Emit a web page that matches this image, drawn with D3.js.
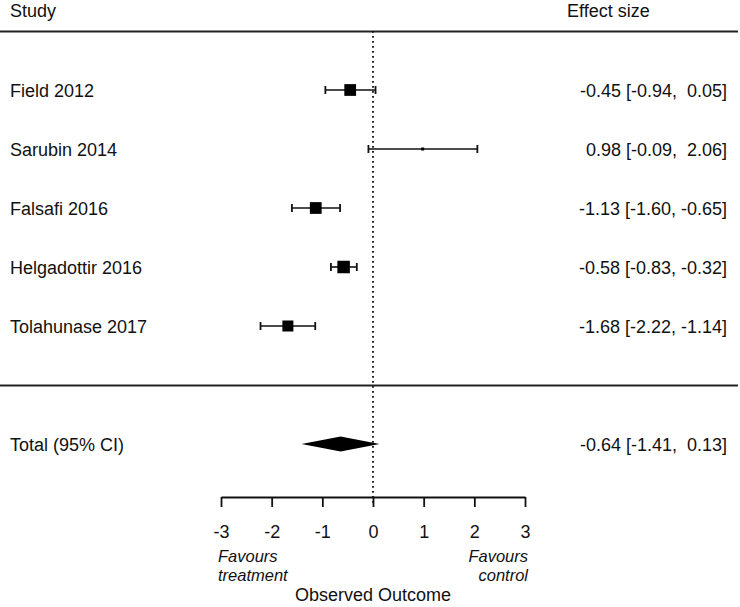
<!DOCTYPE html>
<html>
<head>
<meta charset="utf-8">
<script src="https://cdn.jsdelivr.net/npm/d3@7"></script>
<style>
  body { margin: 0; background: #fff; }
  text { font-family: "Liberation Sans", Arial, sans-serif; fill: #111; white-space: pre; }
</style>
</head>
<body>
<div id="viz"></div>
<script>
const width = 740;
const height = 607;

// study rows, top to bottom
const studies = ['Field 2012', 'Sarubin 2014', 'Falsafi 2016', 'Helgadottir 2016', 'Tolahunase 2017'];
const estimates = [-0.45, 0.98, -1.13, -0.58, -1.68];
const lowerCI = [-0.94, -0.09, -1.60, -0.83, -2.22];
const upperCI = [0.05, 2.06, -0.65, -0.32, -1.14];
const weights = [23.5, 6.0, 23.5, 25.0, 22.0];
const summary = {label: 'Total (95% CI)', est: -0.64, lo: -1.41, hi: 0.13};
const ticks = [-3, -2, -1, 0, 1, 2, 3];

const rows = studies.map((s, i) => ({
  study: s, est: estimates[i], lo: lowerCI[i], hi: upperCI[i], w: weights[i], row: studies.length - i
}));

const x = d3.scaleLinear().domain([-3, 3]).range([221, 525]);
// row index -> y (row 0 is the separator line, -1 the summary)
const y = d3.scaleLinear().domain([0, 5]).range([385, 90]);
const size = d3.scaleLinear().domain([0, d3.max(weights)]).range([0, 12.5]);

const fs = '18px';
const fmt = v => d3.format('.2f')(v).replace('−', '-').padStart(5, ' ');
const label = (e, l, h) => `${fmt(e)} [${fmt(l)}, ${fmt(h)}]`;

const svg = d3.select('#viz').append('svg')
  .attr('width', width)
  .attr('height', height);

// header
svg.append('text').attr('x', 10).attr('y', 17).style('font-size', fs).text('Study');
svg.append('text').attr('x', 567).attr('y', 17).style('font-size', fs).text('Effect size');

// horizontal rules
[6, 0].forEach(r => {
  svg.append('line')
    .attr('x1', 0).attr('x2', width - 2)
    .attr('y1', y(r) + 0.5).attr('y2', y(r) + 0.5)
    .attr('stroke', '#222').attr('stroke-width', 2);
});

// reference line at 0
svg.append('line')
  .attr('x1', x(0)).attr('x2', x(0))
  .attr('y1', y(6)).attr('y2', 505)
  .attr('stroke', '#111').attr('stroke-width', 1.8)
  .attr('stroke-dasharray', '1.8,3.2');

// study rows
const g = svg.selectAll('g.study')
  .data(rows)
  .join('g')
    .attr('class', 'study')
    .attr('transform', d => `translate(0,${y(d.row)})`);

g.append('line')
  .attr('x1', d => x(d.lo)).attr('x2', d => x(d.hi))
  .attr('stroke', '#111').attr('stroke-width', 1.6);

g.selectAll('line.cap')
  .data(d => [d.lo, d.hi])
  .join('line')
    .attr('class', 'cap')
    .attr('x1', v => x(v)).attr('x2', v => x(v))
    .attr('y1', -4).attr('y2', 4)
    .attr('stroke', '#111').attr('stroke-width', 1.8);

g.append('rect')
  .attr('x', d => x(d.est) - size(d.w) / 2)
  .attr('y', d => -size(d.w) / 2)
  .attr('width', d => size(d.w))
  .attr('height', d => size(d.w))
  .attr('fill', '#000');

g.append('text')
  .attr('x', 10).attr('y', 6.5)
  .style('font-size', fs)
  .text(d => d.study);

g.append('text')
  .attr('x', 727).attr('y', 6.5)
  .attr('text-anchor', 'end')
  .style('font-size', fs)
  .text(d => label(d.est, d.lo, d.hi));

// summary diamond
const sy = y(-1);
svg.append('polygon')
  .attr('points', [
    [x(summary.lo), sy], [x(summary.est), sy - 7.5],
    [x(summary.hi), sy], [x(summary.est), sy + 7.5]
  ].map(p => p.join(',')).join(' '))
  .attr('fill', '#000');

svg.append('text').attr('x', 10).attr('y', sy + 6.5).style('font-size', fs).text(summary.label);
svg.append('text').attr('x', 727).attr('y', sy + 6.5).attr('text-anchor', 'end')
  .style('font-size', fs).text(label(summary.est, summary.lo, summary.hi));

// x axis
const axisY = 497;
const axis = svg.append('g')
  .attr('transform', `translate(0,${axisY})`)
  .call(d3.axisBottom(x).tickValues(ticks).tickSize(10).tickSizeOuter(0).tickFormat(d => String(d)));
axis.select('.domain').attr('stroke', '#111').attr('stroke-width', 1.8);
axis.selectAll('.tick line').attr('stroke', '#111').attr('stroke-width', 1.8);
axis.selectAll('.tick text')
  .attr('y', 41).attr('dy', 0)
  .style('font-size', fs)
  .style('font-family', '"Liberation Sans", Arial, sans-serif')
  .attr('fill', '#111');

// favours labels
const fav = svg.append('g')
  .style('font-family', '"Open Sans", sans-serif')
  .style('font-style', 'italic')
  .style('font-size', '16.5px');
fav.append('text').attr('x', 218).attr('y', 562).text('Favours');
fav.append('text').attr('x', 218).attr('y', 581).text('treatment');
fav.append('text').attr('x', 528).attr('y', 562).attr('text-anchor', 'end').text('Favours');
fav.append('text').attr('x', 528).attr('y', 581).attr('text-anchor', 'end').text('control');

svg.append('text')
  .attr('x', x(0)).attr('y', 601)
  .attr('text-anchor', 'middle')
  .style('font-size', '18px')
  .text('Observed Outcome');
</script>
</body>
</html>
